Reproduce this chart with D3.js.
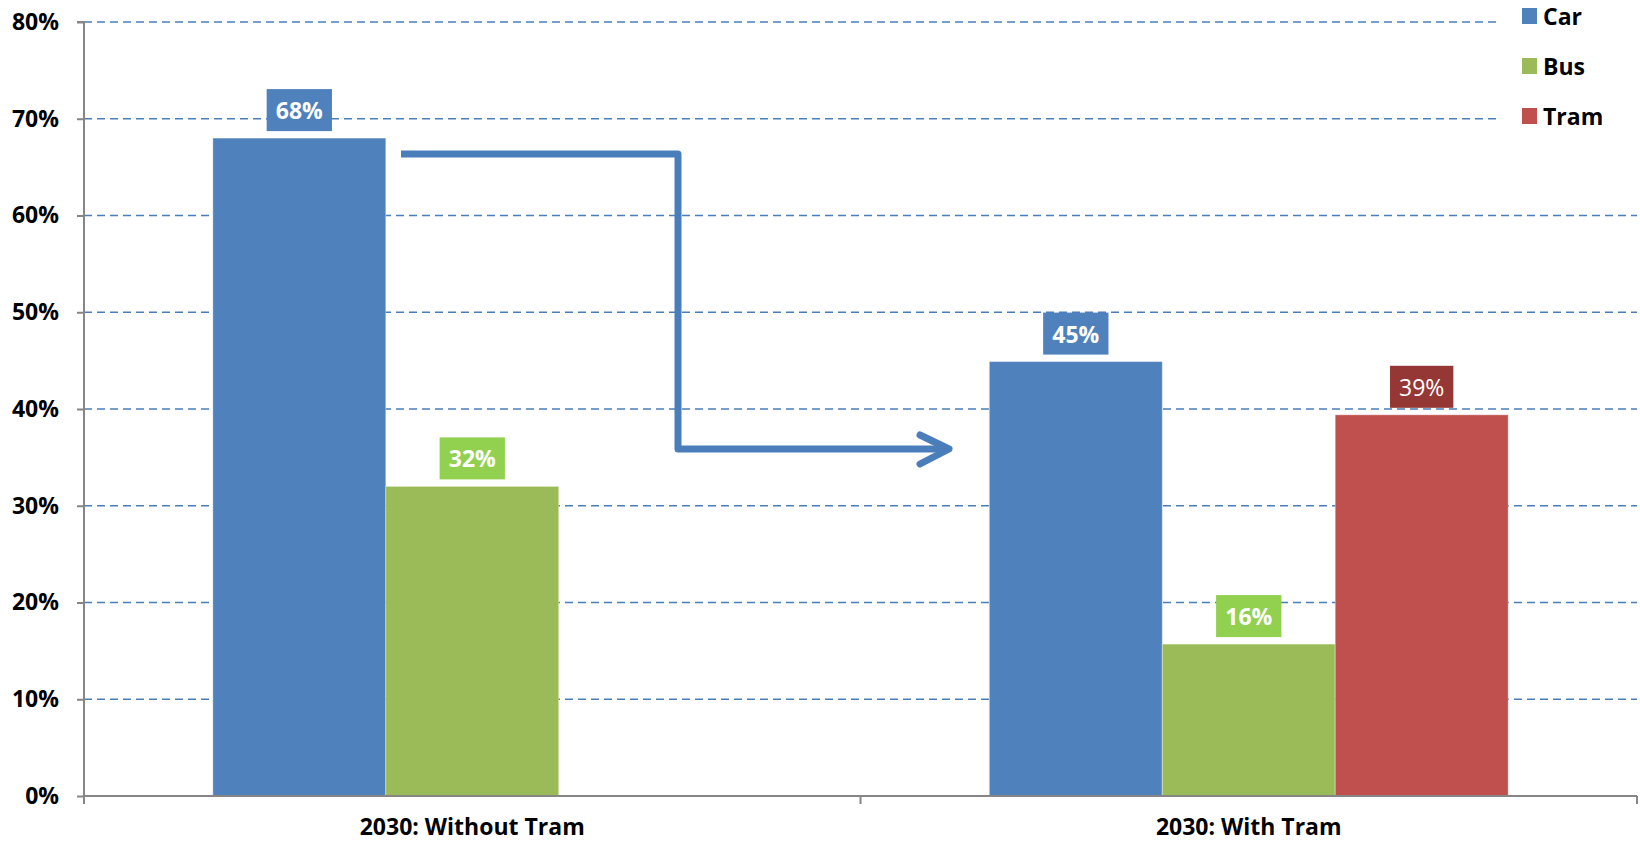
<!DOCTYPE html>
<html><head><meta charset="utf-8">
<script src="https://cdn.jsdelivr.net/npm/d3@7"></script>
<style>
html,body{margin:0;padding:0;background:#fff;}
svg text{font-family:"Open Sans","Liberation Sans",sans-serif;}
</style></head>
<body><svg id="chart" width="1640" height="843"></svg>
<script>
const categories = ["2030: Without Tram", "2030: With Tram"];
const seriesNames = ["Car", "Bus", "Tram"];
const carValues = [0.68, 0.449];
const busValues = [0.32, 0.157];
const tramValues = [null, 0.394];
const labelTexts = [["68%", "45%"], ["32%", "16%"], [null, "39%"]];
const yTicks = [0, 0.1, 0.2, 0.3, 0.4, 0.5, 0.6, 0.7, 0.8];

const barColors = ["#4F81BD", "#9BBB59", "#C0504D"];
const labelFills = ["#4F81BD", "#92D050", "#953735"];
const labelWeights = ["bold", "bold", "normal"];
const seriesValues = [carValues, busValues, tramValues];

const svg = d3.select("#chart");
const mLeft = 84, mRight = 1637, mTop = 22, mBottom = 796;

const y = d3.scaleLinear().domain([0, 0.8]).range([mBottom, mTop]);
const x0 = d3.scaleBand().domain(categories).range([mLeft, mRight]).padding(0);
const x1 = d3.scaleBand().domain(seriesNames).range([0, x0.bandwidth()]).paddingInner(0).paddingOuter(0.745);

// gridlines
svg.append("g").selectAll("line").data(yTicks.filter(d => d > 0)).join("line")
  .attr("x1", mLeft).attr("x2", d => d >= 0.7 ? 1498 : mRight)
  .attr("y1", d => y(d)).attr("y2", d => y(d))
  .attr("stroke", "#4A7EBB").attr("stroke-width", 1.5).attr("stroke-dasharray", "8,5");

// bars
const groups = svg.append("g").selectAll("g").data(categories).join("g")
  .attr("transform", d => `translate(${x0(d)},0)`);
seriesNames.forEach((s, si) => {
  groups.each(function(cat, ci) {
    const v = seriesValues[si][ci];
    if (v == null) return;
    d3.select(this).append("rect")
      .attr("x", x1(s)).attr("width", x1.bandwidth())
      .attr("y", y(v)).attr("height", y(0) - y(v))
      .attr("fill", barColors[si])
      .attr("stroke", "rgba(255,255,255,0.35)").attr("stroke-width", 1);
  });
});

// axes
const yAxis = d3.axisLeft(y).tickValues(yTicks).tickFormat(d3.format(".0%")).tickSize(7).tickPadding(18);
const gy = svg.append("g").attr("transform", `translate(${mLeft},0)`).call(yAxis);
gy.select(".domain").attr("stroke", "#868686").attr("stroke-width", 2).attr("d", `M-7,${mTop}H0V${mBottom}`);
gy.selectAll(".tick line").attr("stroke", "#868686").attr("stroke-width", 2);
gy.selectAll(".tick text").attr("font-size", 23).attr("font-weight", "bold").attr("fill", "#000")
  .attr("font-family", "Open Sans");

const xAxis = d3.axisBottom(x0).tickSize(0).tickPadding(23);
const gx = svg.append("g").attr("transform", `translate(0,${mBottom})`).call(xAxis);
gx.select(".domain").attr("stroke", "#868686").attr("stroke-width", 2).attr("d", `M${mLeft},0H${mRight}`);
gx.selectAll(".tick text").attr("font-size", 23).attr("font-weight", "bold").attr("fill", "#000")
  .attr("font-family", "Open Sans");
const bounds = [mLeft, mLeft + x0.bandwidth(), mRight];
gx.append("g").selectAll("line").data(bounds).join("line")
  .attr("x1", d => d).attr("x2", d => d).attr("y1", 0).attr("y2", 8)
  .attr("stroke", "#868686").attr("stroke-width", 2);

// arrow
const arrowPts = [[401, 154], [678, 154], [678, 449], [948, 449]];
svg.append("path").attr("d", d3.line()(arrowPts))
  .attr("fill", "none").attr("stroke", "#4A7EBB").attr("stroke-width", 7)
  .attr("stroke-linejoin", "round");
svg.append("path").attr("d", d3.line()([[920, 435], [949, 449], [920, 464]]))
  .attr("fill", "none").attr("stroke", "#4A7EBB").attr("stroke-width", 7)
  .attr("stroke-linecap", "round").attr("stroke-linejoin", "round");

// data labels
seriesNames.forEach((s, si) => {
  categories.forEach((cat, ci) => {
    const v = seriesValues[si][ci];
    const t = labelTexts[si][ci];
    if (v == null || t == null) return;
    const cx = x0(cat) + x1(s) + x1.bandwidth() / 2;
    const g = svg.append("g");
    const txt = g.append("text").attr("x", cx).attr("y", y(v) - 28)
      .attr("text-anchor", "middle").attr("dominant-baseline", "central")
      .attr("font-size", 23).attr("font-weight", labelWeights[si]).attr("fill", "#fff").text(t);
    const w = txt.node().getBBox().width + 18;
    g.insert("rect", "text").attr("x", cx - w / 2).attr("y", y(v) - 49)
      .attr("width", w).attr("height", 42).attr("fill", labelFills[si]);
  });
});

// legend
svg.append("rect").attr("x", 1500).attr("y", 0).attr("width", 140).attr("height", 135).attr("fill", "#fff");
const lg = svg.append("g").selectAll("g").data(seriesNames).join("g")
  .attr("transform", (d, i) => `translate(1522,${8 + i * 50})`);
lg.append("rect").attr("width", 15).attr("height", 16).attr("fill", (d, i) => barColors[i]);
lg.append("text").attr("x", 21).attr("y", 8).attr("dominant-baseline", "central")
  .attr("font-size", 23).attr("font-weight", "bold").attr("fill", "#000").text(d => d);
</script></body></html>
